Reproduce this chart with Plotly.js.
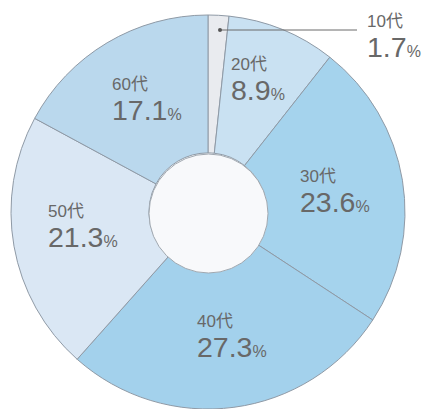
<!DOCTYPE html>
<html><head><meta charset="utf-8">
<script src="https://cdn.plot.ly/plotly-3.0.1.min.js"></script>
<style>html,body{margin:0;padding:0;background:#fff;}#c{width:426px;height:409px;}</style>
</head><body><div id="c"></div>
<script>
const ages = ["10代","20代","30代","40代","50代","60代"];
const shares = [1.7, 8.9, 23.6, 27.3, 21.3, 17.1];
const sliceColors = ["#e9ebef","#c9e1f2","#a5d3ed","#a3d1ec","#dae7f4","#bad8ed"];

const W = 426, H = 409;
const px = x => x / W, py = y => 1 - y / H;
// label positions in pixels: left edge and cap top of the age text
const labelPos = [[366,15],[230,58],[299,170],[196,315],[47,205],[111,78]];

const FONT = 'Liberation Sans, Arial, Noto Sans CJK JP, sans-serif';
const annotations = ages.map((a, i) => {
  const [x, y] = labelPos[i];
  return {xref:'paper', yref:'paper', x:px(x), y:py(y - 4), xanchor:'left', yanchor:'top', align:'left',
    text:'<span style="font-size:17px">' + a + '</span><br>' +
         '<span style="font-size:28.5px">' + shares[i].toFixed(1) + '</span><span style="font-size:16px">%</span>',
    showarrow:false, font:{family:FONT, size:23, color:'#686868'}, borderpad:0};
});

const data = [{
  type:'pie', labels:ages, values:shares, sort:false, direction:'clockwise', rotation:0,
  hole:0.3, textinfo:'none', hoverinfo:'none',
  marker:{colors:sliceColors, line:{color:'#8f9aa6', width:1}},
  domain:{x:[px(11), px(405)], y:[0, py(15)]}
}];

const layout = {
  width:W, height:H, margin:{l:0,r:0,t:0,b:0}, showlegend:false,
  paper_bgcolor:'#ffffff', plot_bgcolor:'#ffffff',
  annotations:annotations,
  shapes:[
    {type:'circle', xref:'paper', yref:'paper', x0:px(149), x1:px(268), y0:py(154), y1:py(273),
     fillcolor:'#f8f9fb', line:{color:'#a0a8b0', width:1}},
    {type:'line', xref:'paper', yref:'paper', x0:px(220), x1:px(357), y0:py(30), y1:py(30),
     line:{color:'#6a6a6a', width:1}},
    {type:'circle', xref:'paper', yref:'paper', x0:px(218), x1:px(222), y0:py(28), y1:py(32),
     fillcolor:'#555', line:{color:'#555', width:0}}
  ]
};
Plotly.newPlot('c', data, layout, {staticPlot:true, displayModeBar:false});
</script></body></html>
